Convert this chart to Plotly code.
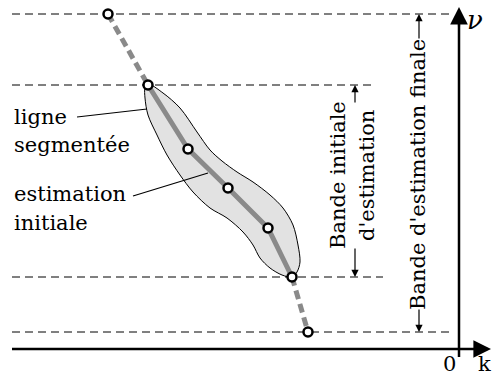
import plotly.graph_objects as go

# Segmented line: knots (k, nu) in the diagram plane (pixel-like units, nu grows downward on screen)
knot_k = [108, 148, 188, 228, 268, 292, 308]
knot_nu = [14, 85, 149, 188, 228, 277, 332]

# Outline of the initial estimation region around the inner knots
blob_k = [148, 163, 180, 197, 210, 222, 237, 253, 270, 283, 293, 298, 300, 297, 292,
          282, 270, 260, 253, 243, 227, 210, 193, 180, 167, 157, 148, 145, 145, 148]
blob_nu = [84, 93, 108, 132, 150, 161, 172, 182, 195, 208, 225, 245, 262, 272, 277,
           275, 268, 258, 245, 232, 218, 208, 192, 175, 155, 135, 115, 98, 88, 84]

# Horizontal band limits: (nu, k_start, k_end)
band_lines = [(14, 12, 454), (85, 12, 374), (277, 12, 383), (332, 12, 454)]

W, H = 494, 378
FONT = "DejaVu Serif"
GREY = "#8a8a8a"

fig = go.Figure()

# shaded initial estimate
fig.add_trace(go.Scatter(x=blob_k, y=blob_nu, mode="lines", fill="toself",
                         fillcolor="#e2e2e2", line=dict(color="black", width=1, shape="spline", smoothing=0.9),
                         hoverinfo="skip"))

# dashed band limits
for nu, k0, k1 in band_lines:
    fig.add_trace(go.Scatter(x=[k0, k1], y=[nu, nu], mode="lines",
                             line=dict(color="black", width=1, dash="8px,5px"), hoverinfo="skip"))

# dashed outer segments of the line
fig.add_trace(go.Scatter(x=knot_k[:2], y=knot_nu[:2], mode="lines",
                         line=dict(color=GREY, width=5, dash="9px,5px"), hoverinfo="skip"))
fig.add_trace(go.Scatter(x=knot_k[-2:], y=knot_nu[-2:], mode="lines",
                         line=dict(color=GREY, width=5, dash="9px,5px"), hoverinfo="skip"))
# solid inner segments
fig.add_trace(go.Scatter(x=knot_k[1:-1], y=knot_nu[1:-1], mode="lines",
                         line=dict(color=GREY, width=5), hoverinfo="skip"))
# knots
fig.add_trace(go.Scatter(x=knot_k, y=knot_nu, mode="markers",
                         marker=dict(size=9, color="white", line=dict(color="black", width=2.5)),
                         hoverinfo="skip"))

# leader lines for the labels
fig.add_trace(go.Scatter(x=[77, 147], y=[117, 109], mode="lines",
                         line=dict(color="black", width=1.2), hoverinfo="skip"))
fig.add_trace(go.Scatter(x=[133, 208], y=[196, 173], mode="lines",
                         line=dict(color="black", width=1.2), hoverinfo="skip"))

# axes k and nu
fig.add_trace(go.Scatter(x=[12, 478], y=[349, 349], mode="lines",
                         line=dict(color="black", width=2.5), hoverinfo="skip"))
fig.add_trace(go.Scatter(x=[459, 459], y=[357, 20], mode="lines",
                         line=dict(color="black", width=2.5), hoverinfo="skip"))

ann = []
# axis arrowheads
ann.append(dict(x=491, y=349, ax=472, ay=349, xref="x", yref="y", axref="x", ayref="y",
                showarrow=True, arrowhead=2, arrowsize=1.6, arrowwidth=2.2, arrowcolor="black", text=""))
ann.append(dict(x=459, y=7, ax=459, ay=28, xref="x", yref="y", axref="x", ayref="y",
                showarrow=True, arrowhead=2, arrowsize=1.6, arrowwidth=2.2, arrowcolor="black", text=""))

# band arrows (stem start -> tip)
band_arrows = [(355, 104, 85), (355, 247, 277), (419, 40, 14), (419, 308, 332)]
for k, s, t in band_arrows:
    ann.append(dict(x=k, y=t, ax=k, ay=s, xref="x", yref="y", axref="x", ayref="y",
                    showarrow=True, arrowhead=2, arrowsize=1.2, arrowwidth=1.2, arrowcolor="black", text=""))

def txt(x, y, s, size=21, angle=0, xanchor="center", italic=False):
    t = f"<i>{s}</i>" if italic else s
    return dict(x=x, y=y, xref="x", yref="y", text=t, showarrow=False, textangle=angle,
                xanchor=xanchor, yanchor="middle",
                font=dict(family=FONT, size=size, color="black"))

ann += [
    txt(12, 117, "ligne", xanchor="left"),
    txt(12, 145, "segmentée", xanchor="left"),
    txt(12, 194, "estimation", xanchor="left"),
    txt(12, 223, "initiale", xanchor="left"),
    txt(338, 175, "Bande initiale", angle=-90),
    txt(367, 176, "d'estimation", angle=-90),
    txt(418, 175, "Bande d'estimation finale", angle=-90),
    txt(475, 20, "ν", size=26, italic=True),
    txt(449, 364, "0"),
    txt(484, 364, "k"),
]

fig.update_layout(
    width=W, height=H, margin=dict(l=0, r=0, t=0, b=0),
    font=dict(family=FONT),
    paper_bgcolor="white", plot_bgcolor="white", showlegend=False,
    xaxis=dict(range=[0, W], visible=False, fixedrange=True),
    yaxis=dict(range=[H, 0], visible=False, fixedrange=True),
    annotations=ann,
)

fig.write_html("out.html")
